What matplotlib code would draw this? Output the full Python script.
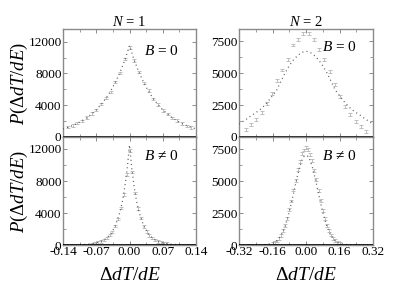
import matplotlib
matplotlib.use("Agg")
import matplotlib.pyplot as plt
from matplotlib.ticker import MultipleLocator, FormatStrFormatter

plt.rcParams['font.family'] = ['Liberation Serif', 'DejaVu Serif']
plt.rcParams['mathtext.fontset'] = 'custom'
plt.rcParams['mathtext.rm'] = 'Liberation Serif'
plt.rcParams['mathtext.it'] = 'Liberation Serif:italic'
plt.rcParams['axes.unicode_minus'] = False

# ---------------- data ----------------
# N=1, B=0 : dotted curve
n1b0_curve_x = [-0.14, -0.13, -0.12, -0.11, -0.10, -0.09, -0.08, -0.07, -0.06, -0.05, -0.04, -0.03, -0.02, -0.01,
                0.00, 0.01, 0.02, 0.03, 0.04, 0.05, 0.06, 0.07, 0.08, 0.09, 0.10, 0.11, 0.12, 0.13, 0.14]
n1b0_curve_y = [1020, 1215, 1440, 1715, 2040, 2425, 2880, 3430, 4070, 4840, 5760, 6850, 8140, 9670,
                11500, 9670, 8140, 6850, 5760, 4840, 4070, 3430, 2880, 2425, 2040, 1715, 1440, 1215, 1020]
# N=1, B=0 : histogram points
n1b0_pts_x = [-0.13, -0.12, -0.11, -0.10, -0.09, -0.08, -0.07, -0.06, -0.05, -0.04, -0.03, -0.02, -0.01,
              0.00, 0.01, 0.02, 0.03, 0.04, 0.05, 0.06, 0.07, 0.08, 0.09, 0.10, 0.11, 0.12, 0.13]
n1b0_pts_y = [1250, 1480, 1760, 2000, 2450, 2950, 3400, 4150, 4900, 5650, 6950, 8050, 9800,
              11300, 9600, 8200, 6800, 5850, 4800, 4100, 3350, 2900, 2400, 2050, 1700, 1400, 1200]

# N=2, B=0 : dotted curve
n2b0_curve_x = [-0.32, -0.30, -0.28, -0.26, -0.24, -0.22, -0.20, -0.18, -0.16, -0.14, -0.12, -0.10, -0.08, -0.06, -0.04, -0.02,
                0.00, 0.02, 0.04, 0.06, 0.08, 0.10, 0.12, 0.14, 0.16, 0.18, 0.20, 0.22, 0.24, 0.26, 0.28, 0.30, 0.32]
n2b0_curve_y = [1020, 1230, 1450, 1690, 1900, 2140, 2440, 2810, 3240, 3670, 4360, 5020, 5580, 6040, 6380, 6630,
                6720, 6630, 6380, 6040, 5580, 5020, 4360, 3670, 3240, 2810, 2440, 2140, 1900, 1690, 1450, 1230, 1020]
# N=2, B=0 : histogram points
n2b0_pts_x = [-0.2875, -0.2625, -0.2375, -0.2125, -0.1875, -0.1625, -0.1375, -0.1125, -0.0875, -0.0625, -0.0375, -0.0125,
              0.0125, 0.0375, 0.0625, 0.0875, 0.1125, 0.1375, 0.1625, 0.1875, 0.2125, 0.2375, 0.2625, 0.2875]
n2b0_pts_y = [600, 950, 1400, 1950, 2600, 3400, 4400, 5250, 6100, 7200, 7630, 8100,
              8120, 7650, 6850, 6100, 5150, 4100, 3200, 2400, 1750, 1200, 850, 450]

# N=1, B!=0 : dotted curve
n1b1_curve_x = [-0.14, -0.11, -0.09, -0.07, -0.06, -0.05, -0.04, -0.03, -0.02, -0.015, -0.01, -0.005,
                0.0, 0.005, 0.01, 0.015, 0.02, 0.03, 0.04, 0.05, 0.06, 0.07, 0.09, 0.11, 0.14]
n1b1_curve_y = [5, 30, 85, 260, 450, 780, 1350, 2360, 4120, 5430, 7170, 9470,
                12500, 9470, 7170, 5430, 4120, 2360, 1350, 780, 450, 260, 85, 30, 5]
# N=1, B!=0 : histogram points
n1b1_pts_x = [-0.078, -0.072, -0.066, -0.060, -0.054, -0.048, -0.042, -0.036, -0.030, -0.024, -0.018, -0.012, -0.006,
              0.000, 0.006, 0.012, 0.018, 0.024, 0.030, 0.036, 0.042, 0.048, 0.054, 0.060, 0.066, 0.072, 0.078]
n1b1_pts_y = [150, 240, 330, 430, 640, 850, 1250, 1650, 2400, 3250, 4650, 6300, 8800,
              11800, 9100, 6500, 4550, 3350, 2300, 1720, 1180, 900, 600, 470, 300, 220, 170]

# N=2, B!=0 : dotted curve
n2b1_curve_x = [-0.32, -0.28, -0.24, -0.20, -0.16, -0.15, -0.14, -0.13, -0.12, -0.11, -0.10, -0.09, -0.08, -0.07, -0.06, -0.05,
                -0.04, -0.03, -0.02, -0.01, 0.00, 0.01, 0.02, 0.03, 0.04, 0.05, 0.06, 0.07, 0.08, 0.09, 0.10, 0.11,
                0.12, 0.13, 0.14, 0.15, 0.16, 0.20, 0.24, 0.28, 0.32]
n2b1_curve_y = [0, 0, 2, 14, 128, 208, 327, 500, 740, 1060, 1470, 1983, 2590, 3273, 4010, 4766,
                5490, 6120, 6620, 6940, 7050, 6940, 6620, 6120, 5490, 4766, 4010, 3273, 2590, 1983, 1470, 1060,
                740, 500, 327, 208, 128, 14, 2, 0, 0]
# N=2, B!=0 : histogram points
n2b1_pts_x = [-0.16, -0.15, -0.14, -0.13, -0.12, -0.11, -0.10, -0.09, -0.08, -0.07, -0.06, -0.05, -0.04, -0.03, -0.02, -0.01,
              0.00, 0.01, 0.02, 0.03, 0.04, 0.05, 0.06, 0.07, 0.08, 0.09, 0.10, 0.11, 0.12, 0.13, 0.14, 0.15, 0.16]
n2b1_pts_y = [130, 220, 320, 530, 760, 1120, 1560, 2050, 2780, 3450, 4320, 5050, 5950, 6550, 7180, 7450,
              7650, 7500, 7100, 6600, 5850, 5150, 4250, 3500, 2700, 2100, 1520, 1120, 780, 500, 340, 200, 120]

col_titles = ['$N\\,=\\,1$', '$N\\,=\\,2$']
row_labels = ['$B\\,=\\,0$', '$B\\,\\neq\\,0$']
x_ticks_left = [-0.14, -0.07, 0.00, 0.07, 0.14]
x_ticks_right = [-0.32, -0.16, 0.00, 0.16, 0.32]
y_ticks_left = [0, 4000, 8000, 12000]
y_ticks_right = [0, 2500, 5000, 7500]
y_label = '$P(\\Delta dT/dE)$'
x_label = '$\\Delta dT/dE$'

# ---------------- figure ----------------
fig = plt.figure(figsize=(4.15, 2.89), dpi=100)
W, H = 415.0, 289.0
lefts = [63, 239]
widths = [133, 134]
tops = [29, 137]
heights = [108, 108]

panels = [
    [(n1b0_curve_x, n1b0_curve_y, n1b0_pts_x, n1b0_pts_y), (n2b0_curve_x, n2b0_curve_y, n2b0_pts_x, n2b0_pts_y)],
    [(n1b1_curve_x, n1b1_curve_y, n1b1_pts_x, n1b1_pts_y), (n2b1_curve_x, n2b1_curve_y, n2b1_pts_x, n2b1_pts_y)],
]
ylims = [[13600, 8460], [13500, 8470]]
spine_col = '#8a8a8a'
label_pos = [[(0.87, 0.80), (0.88, 0.83)], [(0.87, 0.82), (0.88, 0.82)]]

for r in range(2):
    for c in range(2):
        ax = fig.add_axes([lefts[c] / W, 1 - (tops[r] + heights[r]) / H, widths[c] / W, heights[r] / H])
        cx, cy, px, py = panels[r][c]
        yerr = 160 if c == 0 else 110
        ax.errorbar(px, py, yerr=yerr, fmt='none', ecolor='#b5b5b5', elinewidth=0.6,
                    capsize=1.2, capthick=0.6, zorder=2)
        ax.plot(cx, cy, color='#5a5a5a', lw=0.9, linestyle=(0, (0.8, 2.6)), zorder=3)
        ax.axhline(0, color='black', lw=1.2, zorder=4)
        if c == 0:
            ax.set_xlim(-0.14, 0.14)
            ax.set_xticks(x_ticks_left)
            ax.xaxis.set_minor_locator(MultipleLocator(0.035))
            ax.set_yticks(y_ticks_left)
            ax.yaxis.set_minor_locator(MultipleLocator(2000))
        else:
            ax.set_xlim(-0.32, 0.32)
            ax.set_xticks(x_ticks_right)
            ax.xaxis.set_minor_locator(MultipleLocator(0.08))
            ax.set_yticks(y_ticks_right)
            ax.yaxis.set_minor_locator(MultipleLocator(1250))
        ax.set_ylim(0, ylims[r][c])
        ax.xaxis.set_major_formatter(FormatStrFormatter('%.2f'))
        ax.yaxis.set_major_formatter(FormatStrFormatter('%d'))
        ax.tick_params(which='both', direction='in', top=True, right=True, color=spine_col,
                       labelsize=9.5, pad=1.0)
        ax.tick_params(which='major', length=3, width=0.7)
        ax.tick_params(which='minor', length=2, width=0.6)
        for s in ax.spines.values():
            s.set_color(spine_col)
            s.set_linewidth(1.0)
        if r == 0:
            ax.tick_params(labelbottom=False)
            ax.set_title(col_titles[c], fontsize=10.5, pad=0.3)
        else:
            ax.set_xlabel(x_label, fontsize=14, labelpad=6)
        if c == 0:
            ax.set_ylabel(y_label, fontsize=13.5, labelpad=-1)
        lx, ly = label_pos[r][c]
        ax.text(lx, ly, row_labels[r], transform=ax.transAxes, ha='right', va='center', fontsize=11)

fig.savefig('out.png', dpi=100)
